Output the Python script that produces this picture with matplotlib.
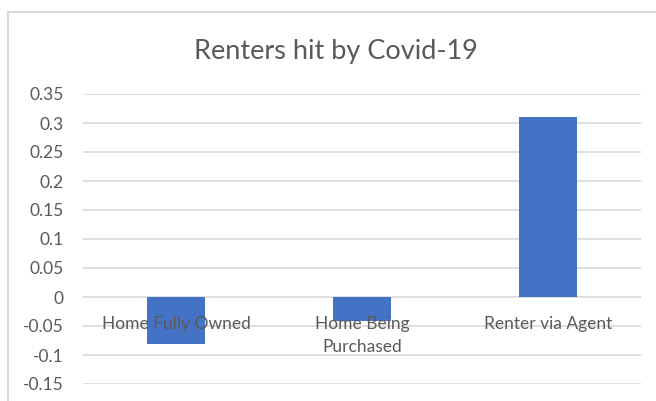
import matplotlib
matplotlib.use("Agg")
import matplotlib.pyplot as plt
from matplotlib.patches import Rectangle
from matplotlib.ticker import FuncFormatter, MultipleLocator

# --- Data ---
categories = ["Home Fully Owned", "Home Being\nPurchased", "Renter via Agent"]
values = [-0.081, -0.042, 0.311]

# --- Style ---
BAR_COLOR = "#4472C4"
TEXT_COLOR = "#595959"
GRID_COLOR = "#D9D9D9"
plt.rcParams["font.family"] = ["Lato", "DejaVu Sans"]
plt.rcParams["axes.unicode_minus"] = False

fig = plt.figure(figsize=(6.56, 4.01), dpi=100)
ax = fig.add_axes([83 / 656, 17 / 401, 558 / 656, 290 / 401])

# chart border (right/bottom edges cut off in the reference)
fig.patches.append(Rectangle((7.5 / 656, -0.1), 1.2, (401 - 12) / 401 + 0.1,
                             transform=fig.transFigure, fill=False,
                             edgecolor=GRID_COLOR, linewidth=1.5))

x = list(range(len(categories)))
ax.bar(x, values, width=0.31, color=BAR_COLOR, zorder=3)

ax.set_xlim(-0.5, len(categories) - 0.5)
ax.set_ylim(-0.15, 0.35)
ax.yaxis.set_major_locator(MultipleLocator(0.05))
ax.yaxis.set_major_formatter(FuncFormatter(lambda v, p: "%g" % round(v, 2)))
ax.grid(axis="y", color=GRID_COLOR, linewidth=1.2, zorder=0)
ax.set_xticks([])
for s in ax.spines.values():
    s.set_visible(False)
ax.tick_params(axis="y", length=0, pad=14, labelcolor=TEXT_COLOR, labelsize=12.5)

# category labels sit just under the zero line, drawn over the bars
for xi, name in zip(x, categories):
    ax.annotate(name, (xi, 0), xytext=(0, -19), textcoords="offset pixels",
                ha="center", va="top", fontsize=12.5, color=TEXT_COLOR,
                linespacing=1.5, zorder=5)

fig.text(336 / 656, 1 - 51 / 401, "Renters hit by Covid-19", ha="center",
         va="center", fontsize=19.5, color=TEXT_COLOR)

fig.savefig("out.png", dpi=100)
